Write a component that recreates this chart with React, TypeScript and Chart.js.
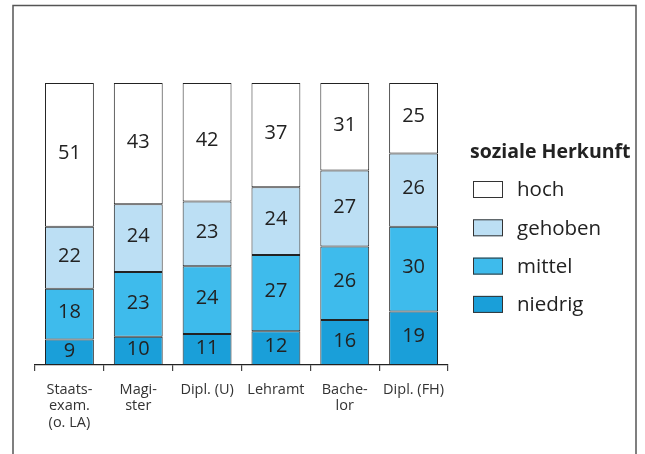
import React, { useEffect, useRef } from "react";
import { Chart, registerables } from "chart.js";

Chart.register(...registerables);

const categories: string[][] = [
  ["Staats-", "exam.", "(o. LA)"],
  ["Magi-", "ster"],
  ["Dipl. (U)"],
  ["Lehramt"],
  ["Bache-", "lor"],
  ["Dipl. (FH)"],
];

const niedrig = [9, 10, 11, 12, 16, 19];
const mittel = [18, 23, 24, 27, 26, 30];
const gehoben = [22, 24, 23, 24, 27, 26];
const hoch = [51, 43, 42, 37, 31, 25];

const legendTitle = "soziale Herkunft";
const FONT = "'Open Sans', 'Noto Sans', sans-serif";

const overlayPlugin = {
  id: "overlay",
  afterDatasetsDraw(chart: any) {
    const ctx = chart.ctx;
    ctx.save();
    ctx.fillStyle = "#222";
    ctx.font = `20px ${FONT}`;
    ctx.textAlign = "center";
    ctx.textBaseline = "middle";
    chart.data.datasets.forEach((ds: any, di: number) => {
      const meta = chart.getDatasetMeta(di);
      meta.data.forEach((bar: any, i: number) => {
        const y = (bar.y + bar.base) / 2;
        ctx.fillText(String(ds.data[i]), bar.x, y - 1.5);
      });
    });
    ctx.restore();
  },
  afterDraw(chart: any) {
    const ctx = chart.ctx;
    ctx.save();
    // frame
    ctx.strokeStyle = "#555";
    ctx.lineWidth = 1.5;
    ctx.beginPath();
    ctx.moveTo(13, 460);
    ctx.lineTo(13, 5.5);
    ctx.lineTo(636, 5.5);
    ctx.lineTo(636, 460);
    ctx.stroke();

    // legend
    ctx.fillStyle = "#222";
    ctx.font = `bold 19.5px ${FONT}`;
    ctx.textAlign = "left";
    ctx.textBaseline = "middle";
    ctx.fillText(legendTitle, 470, 152);
    const items = [...chart.data.datasets].reverse();
    items.forEach((ds: any, k: number) => {
      const cy = 189.5 + k * 38.3;
      ctx.fillStyle = ds.backgroundColor;
      ctx.fillRect(473, cy - 8.5, 30, 17);
      ctx.strokeStyle = "#333";
      ctx.lineWidth = 1;
      ctx.strokeRect(473.5, cy - 8, 29, 16);
      ctx.fillStyle = "#222";
      ctx.font = `20.5px ${FONT}`;
      ctx.fillText(ds.label, 517, cy + 1);
    });
    ctx.restore();
  },
};

export default function App() {
  const ref = useRef<HTMLCanvasElement>(null);
  useEffect(() => {
    const mk = (label: string, data: number[], color: string) => ({
      label,
      data,
      backgroundColor: color,
      borderColor: "#222",
      borderWidth: 1,
      borderSkipped: false,
      barPercentage: 0.71,
      categoryPercentage: 1,
    });
    const chart = new Chart(ref.current!, {
      type: "bar",
      data: {
        labels: categories,
        datasets: [
          mk("niedrig", niedrig, "#1a9fd9"),
          mk("mittel", mittel, "#3ebbec"),
          mk("gehoben", gehoben, "#bcdff4"),
          mk("hoch", hoch, "#ffffff"),
        ],
      },
      options: {
        animation: false,
        responsive: false,
        devicePixelRatio: 1,
        layout: { padding: { left: 35, right: 197, top: 83, bottom: 0 } },
        plugins: { legend: { display: false }, tooltip: { enabled: false } },
        scales: {
          x: {
            stacked: true,
            offset: true,
            afterFit: (s: any) => {
              s.height = 89;
            },
            grid: {
              offset: true,
              drawOnChartArea: false,
              drawTicks: true,
              tickLength: 6,
              color: "#444",
              lineWidth: 1.2,
            },
            border: { display: true, color: "#222", width: 1.2 },
            ticks: {
              color: "#333",
              font: { family: FONT, size: 14.5, lineHeight: 1.12 },
              padding: 11,
              maxRotation: 0,
              autoSkip: false,
            },
          },
          y: {
            stacked: true,
            display: false,
            min: 0,
            max: 100,
          },
        },
      },
      plugins: [overlayPlugin],
    });
    return () => chart.destroy();
  }, []);
  return (
    <div style={{ position: "fixed", left: 0, top: 0, width: 645, height: 454, background: "#fff" }}>
      <canvas ref={ref} width={645} height={454} style={{ display: "block" }} />
    </div>
  );
}
